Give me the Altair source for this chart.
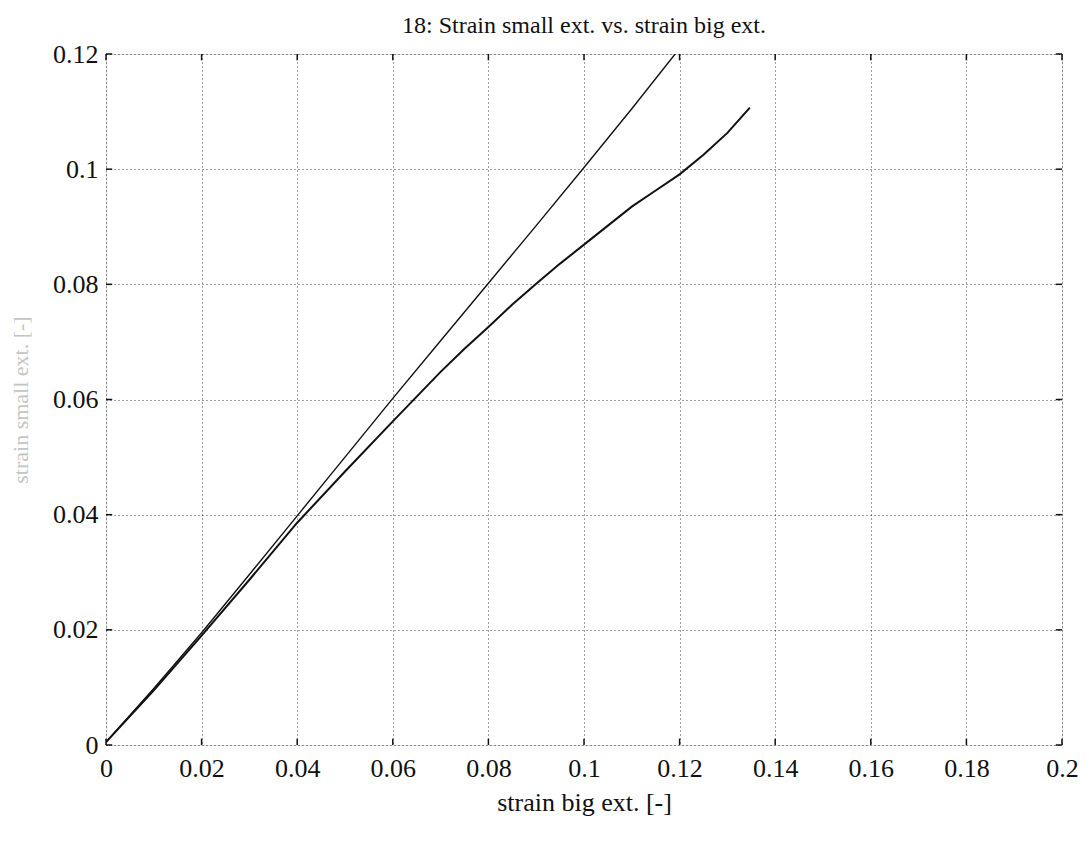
import altair as alt
import pandas as pd

# Series
x_line1 = [0.0, 0.01, 0.02, 0.03, 0.04, 0.05, 0.06, 0.07, 0.08, 0.09, 0.10, 0.11, 0.1205]
y_line1 = [0.0005, 0.0098, 0.0195, 0.0296, 0.0398, 0.0500, 0.0602, 0.0702, 0.0802, 0.0902, 0.1003, 0.1105, 0.1215]

x_line2 = [0.0, 0.01, 0.02, 0.03, 0.04, 0.05, 0.06, 0.07, 0.075, 0.08, 0.085, 0.09, 0.095,
           0.10, 0.105, 0.11, 0.115, 0.12, 0.125, 0.13, 0.1347]
y_line2 = [0.0005, 0.0095, 0.0190, 0.0287, 0.0386, 0.0475, 0.0562, 0.0648, 0.0688, 0.0726, 0.0765,
           0.0801, 0.0836, 0.0869, 0.0902, 0.0935, 0.0963, 0.0991, 0.1025, 0.1063, 0.1107]

x_ticks = [0.0, 0.02, 0.04, 0.06, 0.08, 0.10, 0.12, 0.14, 0.16, 0.18, 0.20]
y_ticks = [0.0, 0.02, 0.04, 0.06, 0.08, 0.10, 0.12]

FONT = "Liberation Serif"

xs = alt.Scale(domain=[0, 0.2], nice=False, zero=False)
ys = alt.Scale(domain=[0, 0.12], nice=False, zero=False)

x_axis = alt.Axis(values=x_ticks, format="~g", grid=True, gridDash=[1, 3], gridColor="#000000",
                  gridOpacity=0.75, gridWidth=1, ticks=False, domain=False,
                  labelFont=FONT, labelFontSize=26, labelColor="#111111", labelPadding=10,
                  labelFlush=False,
                  title="strain big ext. [-]", titleFont=FONT, titleFontSize=26,
                  titleFontWeight="normal", titleColor="#111111", titlePadding=8)
y_axis = alt.Axis(values=y_ticks, format="~g", grid=True, gridDash=[1, 3], gridColor="#000000",
                  gridOpacity=0.75, gridWidth=1, ticks=False, domain=False,
                  labelFont=FONT, labelFontSize=26, labelColor="#111111", labelPadding=8,
                  labelFlush=False,
                  title="strain small ext. [-]", titleFont=FONT, titleFontSize=22,
                  titleFontWeight="normal", titleColor="#c4c4c4", titlePadding=20)

line1 = alt.Chart(pd.DataFrame({"x": x_line1, "y": y_line1})).mark_line(
    color="#111111", strokeWidth=1.4, clip=True
).encode(x=alt.X("x:Q", scale=xs, axis=x_axis), y=alt.Y("y:Q", scale=ys, axis=y_axis))

line2 = alt.Chart(pd.DataFrame({"x": x_line2, "y": y_line2})).mark_line(
    color="#111111", strokeWidth=2.0, clip=True
).encode(x=alt.X("x:Q", scale=xs), y=alt.Y("y:Q", scale=ys))

# inward tick marks (bottom/top for x, left/right for y)
tx = pd.DataFrame({"v": x_ticks})
ty = pd.DataFrame({"v": y_ticks})
tick_len_y = 0.0011
tick_len_x = 0.0013
xt_bottom = alt.Chart(tx).transform_calculate(a="0", b=str(tick_len_y)).mark_rule(
    color="#111111", strokeWidth=1.5).encode(
    x=alt.X("v:Q", scale=xs), y=alt.Y("a:Q", scale=ys), y2="b:Q")
xt_top = alt.Chart(tx).transform_calculate(a="0.12", b=str(0.12 - tick_len_y)).mark_rule(
    color="#111111", strokeWidth=1.5).encode(
    x=alt.X("v:Q", scale=xs), y=alt.Y("a:Q", scale=ys), y2="b:Q")
yt_left = alt.Chart(ty).transform_calculate(a="0", b=str(tick_len_x)).mark_rule(
    color="#111111", strokeWidth=1.5).encode(
    y=alt.Y("v:Q", scale=ys), x=alt.X("a:Q", scale=xs), x2="b:Q")
yt_right = alt.Chart(ty).transform_calculate(a="0.2", b=str(0.2 - tick_len_x)).mark_rule(
    color="#111111", strokeWidth=1.5).encode(
    y=alt.Y("v:Q", scale=ys), x=alt.X("a:Q", scale=xs), x2="b:Q")

chart = alt.layer(line1, line2, xt_bottom, xt_top, yt_left, yt_right).properties(
    width=956, height=691,
    title=alt.TitleParams("18: Strain small ext. vs. strain big ext.", font=FONT, fontSize=24,
                          fontWeight="normal", color="#111111", offset=3, anchor="middle"),
    autosize=alt.AutoSizeParams(type="none"),
    padding={"left": 98, "top": 46, "right": 21, "bottom": 80},
).configure_view(stroke="#111111", strokeWidth=1.8).configure(background="#ffffff")

chart.save("out.html", embed_options={"renderer": "svg", "actions": False})
